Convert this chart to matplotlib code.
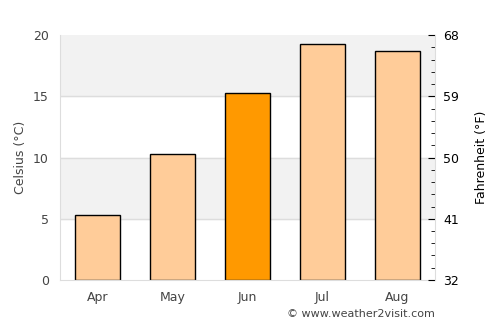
import matplotlib
matplotlib.use('Agg')
import matplotlib.pyplot as plt

# data
months = ['Apr', 'May', 'Jun', 'Jul', 'Aug']
celsius = [5.3, 10.3, 15.25, 19.25, 18.7]
highlight = 'Jun'

fig = plt.figure(figsize=(5, 3.25), dpi=100)
ax = fig.add_axes([0.12, 0.1385, 0.75, 0.7535])

# alternating bands
for lo in range(0, 20, 5):
    if (lo // 5) % 2 == 1:
        ax.axhspan(lo, lo + 5, color='#f2f2f2', zorder=0)
for y in [5, 10, 15]:
    ax.axhline(y, color='#dddddd', lw=1, zorder=1)

colors = ['#ff9900' if m == highlight else '#ffcc99' for m in months]
ax.bar(range(len(months)), celsius, width=0.6, color=colors,
       edgecolor='black', linewidth=1, zorder=2)

ax.set_xlim(-0.5, len(months) - 0.5)
ax.set_ylim(0, 20)
ax.set_xticks(range(len(months)))
ax.set_xticklabels(months)
ax.set_yticks([0, 5, 10, 15, 20])
ax.tick_params(axis='both', length=0, colors='#444444', labelsize=9, pad=8)
ax.set_ylabel('Celsius (°C)', color='#444444', fontsize=9)
for s in ['top', 'right']:
    ax.spines[s].set_visible(False)
for s in ['left', 'bottom']:
    ax.spines[s].set_color('#dddddd')

# fahrenheit axis
ax2 = ax.twinx()
ax2.set_ylim(32, 68)
ax2.set_yticks([32, 41, 50, 59, 68])
ax2.set_yticks([32 + 1.8 * i for i in range(21)], minor=True)
ax2.tick_params(axis='y', which='major', direction='in', length=5,
                labelsize=9, pad=6)
ax2.tick_params(axis='y', which='minor', direction='in', length=3)
ax2.set_ylabel('Fahrenheit (°F)', fontsize=9, labelpad=11)
for s in ['top', 'left', 'bottom']:
    ax2.spines[s].set_visible(False)
ax2.spines['right'].set_color('#dddddd')

fig.text(0.87, 0.018, '© www.weather2visit.com', ha='right', va='bottom',
         fontsize=8, color='#444444')

fig.savefig('out.png', dpi=100)
